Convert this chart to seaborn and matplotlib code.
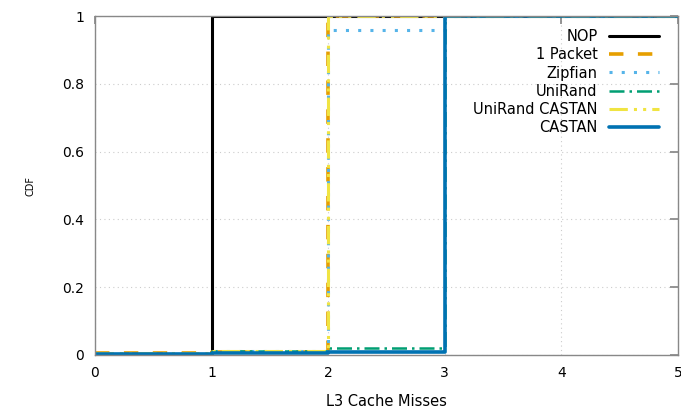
import matplotlib
matplotlib.use("Agg")
import matplotlib.pyplot as plt
import seaborn as sns
import pandas as pd

sns.set_theme(style="white")
plt.rcParams['font.family'] = ['DejaVu Sans']
plt.rcParams['text.color'] = 'black'
plt.rcParams['axes.labelcolor'] = 'black'

x_vals = [0, 1, 2, 3, 4, 5]
series_names = ["NOP", "1 Packet", "Zipfian", "UniRand", "UniRand CASTAN", "CASTAN"]
nop = [0.002, 1.0, 1.0, 1.0, 1.0, 1.0]
one_packet = [0.005, 0.01, 1.0, 1.0, 1.0, 1.0]
zipfian = [0.004, 0.012, 0.96, 1.0, 1.0, 1.0]
unirand = [0.004, 0.012, 0.022, 1.0, 1.0, 1.0]
unirand_castan = [0.006, 0.012, 1.0, 1.0, 1.0, 1.0]
castan = [0.002, 0.006, 0.008, 1.0, 1.0, 1.0]

colors = ["#000000", "#e69f00", "#56b4e9", "#009e73", "#f0e442", "#0072b2"]
styles = ["-", (0, (4, 4)), (0, (1, 3)), (0, (6, 2, 1, 2)), (0, (6, 2, 1, 2, 1, 2)), "-"]
widths = [2.2, 2.6, 2.2, 1.8, 2.2, 2.6]

rows = []
for name, vals in zip(series_names, [nop, one_packet, zipfian, unirand, unirand_castan, castan]):
    for xv, yv in zip(x_vals, vals):
        rows.append({"x": xv, "y": yv, "series": name})
df = pd.DataFrame(rows)

fig = plt.figure(figsize=(6.81, 4.11), dpi=100)
ax = fig.add_axes([0.1395, 0.1363, 0.856, 0.8247])

for name, c, ls, lw in zip(series_names, colors, styles, widths):
    sub = df[df.series == name]
    sns.lineplot(data=sub, x="x", y="y", ax=ax, color=c, linestyle=ls, linewidth=lw,
                 drawstyle="steps-post", label=name, estimator=None)

ax.set_xlim(0, 5)
ax.set_ylim(0, 1)
ax.set_xticks([0, 1, 2, 3, 4, 5])
ax.set_yticks([0, 0.2, 0.4, 0.6, 0.8, 1])
ax.set_yticklabels(["0", "0.2", "0.4", "0.6", "0.8", "1"])
ax.grid(True, linestyle=(0, (1, 3)), color="#cccccc", linewidth=0.8)
for s in ax.spines.values():
    s.set_color("#888888")
    s.set_linewidth(1.0)
ax.tick_params(direction="in", top=True, right=True, length=6, color="#888888",
               labelsize=10, pad=8, colors="#888888", labelcolor="black")
ax.set_xlabel("L3 Cache Misses", fontsize=10.5, labelpad=10, color="black")
ax.set_ylabel("CDF", fontsize=7, labelpad=19, color="black")

leg = ax.legend(loc="upper right", bbox_to_anchor=(0.99, 1.0), frameon=False,
                markerfirst=False, fontsize=10.5, handlelength=3.4, labelspacing=0.22,
                handletextpad=0.8)
for t in leg.get_texts():
    t.set_color("black")

fig.savefig("out.png", dpi=100)
